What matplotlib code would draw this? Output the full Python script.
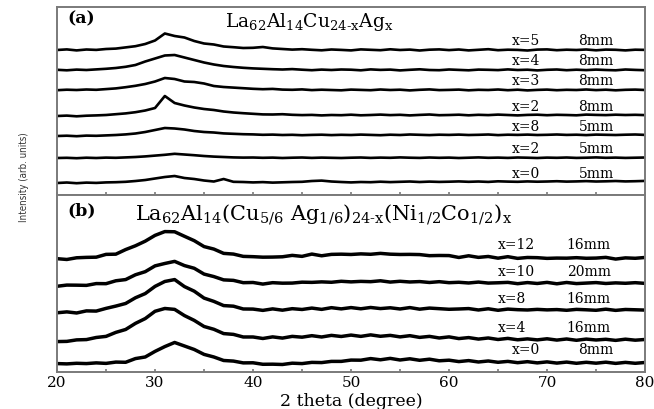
import numpy as np
import matplotlib
matplotlib.use('Agg')
import matplotlib.pyplot as plt

# ==================================================================
# XRD patterns of La62Al14Cu24-xAgx (a) and
# La62Al14(Cu5/6Ag1/6)24-x(Ni1/2Co1/2)x (b) rods
# intensities every 1 degree, 20..80
# ==================================================================

two_theta = np.arange(20, 81)

# ---- panel (a): heights above each curve's own baseline (arb. units)
a_labels = ['x=5', 'x=4', 'x=3', 'x=2', 'x=8', 'x=2', 'x=0']
a_sizes = ['8mm', '8mm', '8mm', '8mm', '5mm', '5mm', '5mm']

a_x5_8mm = [0.0, 0.6, -0.4, 0.5, 0.1, 1.0, 1.4, 2.6, 3.8, 6.0,
            9.5, 16.5, 14.0, 12.5, 9.0, 6.5, 5.5, 3.5, 2.8, 2.0,
            2.2, 3.0, 1.6, 1.0, 0.4, 0.8, 0.2, -0.3, 0.5, 0.1,
            -0.4, 0.6, 0.2, -0.2, 0.7, 0.0, 0.4, -0.5, 0.3, 0.6,
            -0.1, 0.5, -0.4, 0.2, 0.8, -0.2, 0.3, 0.1, -0.5, 0.4,
            0.6, -0.2, 0.3, 0.0, 0.5, -0.3, 0.4, 0.2, -0.4, 0.3, 0.1]
a_x4_8mm = [0.2, -0.3, 0.4, 0.0, 0.6, 1.2, 2.0, 3.2, 5.0, 8.5,
            11.5, 14.5, 15.0, 12.5, 10.0, 7.5, 5.5, 4.0, 3.0, 2.2,
            1.6, 1.2, 0.8, 0.5, 0.9, 0.3, -0.2, 0.4, 0.0, 0.5,
            0.3, -0.3, 0.6, 0.1, 0.4, -0.4, 0.2, 0.7, 0.0, -0.2,
            0.5, 0.1, -0.3, 0.4, 0.2, -0.1, 0.6, 0.0, 0.3, -0.4,
            0.2, 0.5, -0.2, 0.3, -0.1, 0.4, 0.0, -0.3, 0.5, 0.1, -0.2]
a_x3_8mm = [-0.2, 0.3, 0.0, 0.5, 0.2, 0.9, 1.6, 2.8, 4.2, 6.0,
            8.5, 12.0, 11.0, 8.5, 8.0, 6.5, 4.0, 3.0, 2.4, 1.8,
            1.2, 0.8, 1.1, 0.4, 0.2, 0.6, -0.1, 0.3, 0.0, -0.3,
            0.4, 0.1, -0.2, 0.5, 0.0, 0.3, -0.4, 0.2, 0.6, -0.1,
            0.1, 0.4, -0.3, 0.2, 0.0, 0.5, -0.2, 0.3, -0.4, 0.1,
            0.4, -0.2, 0.2, 0.0, 0.5, -0.1, 0.3, -0.3, 0.2, 0.4, 0.0]
a_x2_8mm = [0.0, 0.4, -0.3, 0.3, 0.6, 1.0, 1.8, 2.6, 3.8, 5.5,
            8.0, 20.0, 13.0, 10.5, 8.5, 7.0, 6.0, 4.5, 3.5, 2.8,
            2.2, 1.6, 1.5, 1.8, 1.2, 0.9, 1.1, 0.6, 1.0, 0.8,
            1.3, 0.7, 1.0, 1.4, 0.9, 1.2, 0.6, 1.1, 1.5, 0.8,
            1.0, 1.3, 0.7, 1.2, 0.9, 1.4, 1.0, 0.6, 1.1, 1.3,
            0.8, 1.2, 1.0, 0.7, 1.4, 1.1, 0.9, 1.3, 1.0, 1.2, 0.9]
a_x8_5mm = [0.0, 0.3, -0.2, 0.4, 0.2, 0.6, 1.0, 1.6, 2.5, 4.0,
            6.0, 8.0, 7.5, 6.5, 5.0, 4.0, 3.5, 2.6, 2.2, 1.8,
            1.6, 1.2, 1.4, 1.0, 1.2, 0.8, 1.1, 1.3, 0.9, 1.2,
            1.0, 1.4, 1.1, 0.8, 1.3, 1.0, 1.5, 1.2, 0.9, 1.3,
            1.1, 1.4, 1.0, 1.2, 1.5, 0.9, 1.3, 1.1, 1.4, 1.0,
            1.2, 1.5, 1.1, 1.3, 0.9, 1.4, 1.2, 1.0, 1.3, 1.5, 1.1]
a_x2_5mm = [0.0, 0.2, -0.2, 0.3, 0.0, 0.4, 0.2, 0.6, 1.0, 1.6,
            2.4, 3.2, 4.2, 3.5, 2.8, 2.0, 1.4, 1.0, 0.6, 0.4,
            0.5, 0.2, 0.4, 0.0, 0.3, 0.5, 0.1, 0.4, 0.2, 0.0,
            0.3, 0.5, 0.1, 0.4, 0.2, 0.6, 0.3, 0.1, 0.5, 0.2,
            0.4, 0.0, 0.3, 0.6, 0.2, 0.4, 0.1, 0.5, 0.3, 0.0,
            0.4, 0.2, 0.5, 0.1, 0.3, 0.6, 0.2, 0.4, 0.1, 0.3, 0.5]
a_x0_5mm = [0.0, 0.5, -0.2, 0.4, 0.1, 0.6, 0.8, 1.2, 2.0, 3.0,
            4.5, 6.0, 7.0, 5.0, 4.0, 2.5, 1.5, 4.0, 1.2, 1.0,
            0.6, 0.9, 0.4, 0.7, 1.0, 1.2, 2.0, 2.4, 1.5, 1.0,
            0.6, 1.0, 0.8, 1.3, 0.9, 1.2, 1.5, 1.0, 1.4, 1.1,
            1.3, 1.6, 1.2, 1.5, 1.1, 1.7, 1.4, 1.2, 1.6, 1.3,
            1.5, 1.8, 1.4, 1.6, 1.9, 1.5, 1.7, 2.0, 1.6, 1.8, 2.1]

# ---- panel (b)
b_labels = ['x=12', 'x=10', 'x=8', 'x=4', 'x=0']
b_sizes = ['16mm', '20mm', '16mm', '16mm', '8mm']

b_x12_16mm = [0.3, -0.5, 1.2, 1.6, 1.8, 4.6, 4.8, 9.4, 13.2, 17.8,
              23.6, 27.4, 27.2, 22.7, 18.3, 12.4, 9.9, 5.6, 4.9, 2.6,
              2.3, 1.8, 1.9, 2.2, 3.6, 2.6, 4.9, 3.2, 4.6, 4.8,
              4.5, 5.1, 4.7, 5.6, 4.8, 4.5, 4.6, 4.4, 3.3, 3.5,
              3.4, 1.5, 3.2, 1.6, 2.5, 0.8, 2.3, 0.6, 1.5, 1.3,
              0.6, 0.9, 0.8, 1.3, 0.7, 0.9, 1.6, -0.1, 1.1, 0.7, 1.5]
b_x10_20mm = [-0.3, 0.9, 0.8, 0.6, 2.4, 2.3, 5.2, 6.4, 11.2, 14.3,
              20.1, 22.5, 24.6, 20.4, 17.7, 11.9, 9.4, 6.1, 5.6, 3.3,
              3.5, 1.9, 3.3, 2.8, 2.9, 3.8, 3.6, 4.1, 3.7, 4.7,
              4.1, 4.6, 4.3, 5.2, 3.9, 4.7, 4.0, 4.4, 3.5, 4.3,
              3.3, 3.7, 3.0, 3.9, 2.9, 3.2, 3.6, 2.3, 3.4, 2.5,
              3.6, 2.2, 3.5, 2.4, 2.9, 3.4, 2.5, 3.1, 2.7, 3.3, 2.6]
b_x8_16mm = [0.2, 1.1, 0.0, 2.1, 1.9, 4.6, 6.9, 9.5, 15.2, 19.4,
             26.6, 31.5, 33.4, 26.4, 21.8, 14.9, 11.6, 7.4, 6.8, 4.0,
             3.9, 2.6, 4.1, 2.8, 4.3, 3.5, 4.9, 3.6, 5.3, 4.1,
             5.4, 4.2, 5.5, 4.4, 5.2, 4.0, 5.4, 3.8, 4.9, 4.3,
             3.7, 4.0, 4.4, 3.0, 4.2, 2.7, 3.9, 3.3, 3.0, 3.6,
             3.1, 3.4, 2.7, 3.6, 3.2, 2.7, 3.8, 2.6, 3.5, 3.2, 2.9]
b_x4_16mm = [0.4, 0.6, 2.1, 2.4, 4.5, 5.6, 9.6, 12.5, 18.6, 23.4,
             30.7, 33.5, 32.6, 26.4, 21.6, 15.5, 12.7, 8.4, 7.6, 5.0,
             5.0, 3.5, 5.1, 3.9, 5.6, 4.8, 6.3, 5.0, 6.6, 5.5,
             6.9, 5.6, 7.1, 5.7, 6.6, 5.1, 6.3, 4.6, 5.6, 4.0,
             5.1, 3.4, 4.4, 2.9, 4.0, 2.5, 3.6, 2.2, 3.1, 2.1,
             3.2, 1.9, 3.0, 1.7, 2.9, 2.0, 2.7, 1.6, 2.8, 1.8, 2.5]
b_x0_8mm = [0.4, 0.1, 0.7, 0.4, 1.1, 0.6, 1.9, 1.7, 5.4, 7.0,
            12.6, 17.4, 21.5, 18.0, 14.5, 9.6, 7.0, 3.5, 2.9, 1.1,
            1.2, -0.3, -0.2, -0.5, 0.8, 0.4, 1.6, 1.4, 2.6, 2.6,
            3.9, 3.8, 5.4, 4.2, 5.6, 4.0, 5.2, 3.7, 4.8, 3.2,
            3.8, 2.4, 3.4, 2.0, 3.0, 1.7, 2.6, 1.3, 2.3, 1.1,
            2.1, 0.9, 1.9, 0.7, 1.7, 0.8, 1.8, 0.6, 1.6, 0.7, 1.5]

a_curves = [a_x5_8mm, a_x4_8mm, a_x3_8mm, a_x2_8mm, a_x8_5mm, a_x2_5mm, a_x0_5mm]
b_curves = [b_x12_16mm, b_x10_20mm, b_x8_16mm, b_x4_16mm, b_x0_8mm]

# vertical stacking of the curves
a_offsets = [145, 125, 105, 79, 59, 37, 12]
b_offsets = [113, 86, 59, 30, 8]

plt.rcParams['font.family'] = 'DejaVu Serif'
plt.rcParams['mathtext.fontset'] = 'dejavuserif'

frame = '#7a7a7a'

fig = plt.figure(figsize=(6.54, 4.09), dpi=100)
ax_a = fig.add_axes([0.0872, 0.5232, 0.8991, 0.4597])
ax_b = fig.add_axes([0.0872, 0.0905, 0.8991, 0.4328])

for ax in (ax_a, ax_b):
    ax.set_xlim(20, 80)
    ax.set_yticks([])
    ax.set_xticks(np.arange(20, 81, 5))
    ax.tick_params(axis='x', direction='in', length=2.5, width=1.2, color=frame,
                   labelsize=11, pad=3)
    for s in ax.spines.values():
        s.set_color(frame)
        s.set_linewidth(1.4)

ax_a.set_ylim(0, 188)
ax_b.set_ylim(0, 177)
ax_a.tick_params(axis='x', labelbottom=False)
ax_b.set_xticklabels(['20', '', '30', '', '40', '', '50', '', '60', '', '70', '', '80'])

for y, off, lab, size in zip(a_curves, a_offsets, a_labels, a_sizes):
    ax_a.plot(two_theta, np.array(y) + off, color='black', lw=1.9)
    ax_a.text(66.4, off + 9, lab, fontsize=10, va='center')
    ax_a.text(73.2, off + 9, size, fontsize=10, va='center')

for y, off, lab, size in zip(b_curves, b_offsets, b_labels, b_sizes):
    ax_b.plot(two_theta, np.array(y) + off, color='black', lw=2.5)
    lx = 66.4 if lab == 'x=0' else 65.0
    sx = 73.2 if size == '8mm' else 72.0
    ax_b.text(lx, off + 14, lab, fontsize=10, va='center')
    ax_b.text(sx, off + 14, size, fontsize=10, va='center')

ax_a.text(21.1, 176, '(a)', fontsize=12.5, fontweight='bold', va='center')
ax_a.text(37.1, 173, r'La$_{62}$Al$_{14}$Cu$_{\text{24-x}}$Ag$_{\text{x}}$',
          fontsize=13.5, va='center')
ax_b.text(21.1, 161, '(b)', fontsize=12.5, fontweight='bold', va='center')
ax_b.text(28.0, 157, r'La$_{62}$Al$_{14}$(Cu$_{5/6}$ Ag$_{1/6}$)$_{\text{24-x}}$'
          r'(Ni$_{1/2}$Co$_{1/2}$)$_{\text{x}}$', fontsize=15, va='center')

ax_b.set_xlabel('2 theta (degree)', fontsize=12.5, labelpad=2)
fig.text(0.036, 0.567, 'Intensity (arb. units)', rotation=90, fontsize=7,
         family=['Liberation Sans Narrow', 'DejaVu Sans'], fontstretch='condensed',
         color='#333333', ha='center', va='center')

fig.savefig('out.png', dpi=100)
